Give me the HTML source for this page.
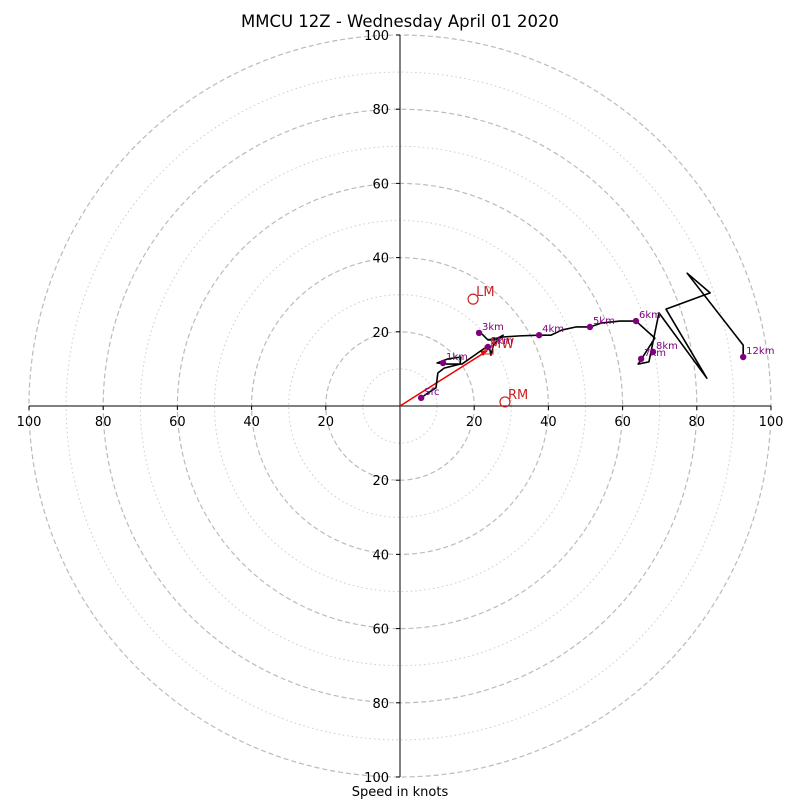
<!DOCTYPE html>
<html><head><meta charset="utf-8"><style>
body{margin:0;background:#fff}
svg{display:block;font-family:"DejaVu Sans","Liberation Sans",sans-serif}
</style></head><body>
<svg id="c" width="800" height="800" viewBox="0 0 800 800">
<text x="400" y="27" text-anchor="middle" font-size="16.5">MMCU 12Z - Wednesday April 01 2020</text>
<text x="400" y="796" text-anchor="middle" font-size="13">Speed in knots</text>
<g id="grid"></g><g id="axes"></g><g id="plot"></g>
</svg>
<script>
const ringSpeeds=[10,20,30,40,50,60,70,80,90,100];
const tickLabels=[20,40,60,80,100];
const pathU=[5.7,7.5,9.7,10.2,11.9,16.2,16.4,12.9,10.0,12.7,16.7,22.1,24.0,24.5,25.3,27.8,25.6,23.7,21.6,23.7,27.8,32.3,37.5,40.7,43.7,47.4,51.2,54.4,59.3,63.6,68.7,64.2,67.1,69.8,82.7,71.7,83.6,77.4,92.5,92.5];
const pathV=[2.2,3.5,4.9,8.9,10.2,11.3,13.2,12.7,11.6,11.3,11.3,15.1,16.4,13.7,16.7,19.1,17.8,17.8,19.9,17.8,18.6,18.9,19.1,19.1,20.5,21.3,21.3,22.4,22.9,22.9,18.3,11.3,11.9,25.1,7.5,26.1,30.5,35.8,16.4,13.2];
const markLabels=["Sfc","1km","2km","3km","4km","5km","6km","7km","8km","12km"];
const markU=[5.7,11.6,23.7,21.3,37.5,51.2,63.6,65.0,68.2,92.5];
const markV=[2.2,11.6,15.9,19.7,19.1,21.3,22.9,12.7,14.6,13.2];
const lmU=19.7, lmV=28.8, rmU=28.3, rmV=1.1, mwU=24.0, mwV=15.1;

const CX=400, CY=406, R=371, MAX=100;
const sx=u=>CX+u*R/MAX, sy=v=>CY-v*R/MAX, sr=s=>s*R/MAX;
const NS='http://www.w3.org/2000/svg';
function mk(tag,attrs,parent){const e=document.createElementNS(NS,tag);for(const k in attrs)e.setAttribute(k,attrs[k]);parent.appendChild(e);return e;}
const grid=document.getElementById('grid'),axes=document.getElementById('axes'),plot=document.getElementById('plot');
ringSpeeds.forEach(s=>{
  const c=mk('circle',{cx:CX,cy:CY,r:sr(s),fill:'none',stroke:s%20===0?'#bbb':'#ccc','stroke-width':s%20===0?1.2:1,'stroke-dasharray':s%20===0?'5,3':'1.5,3'},grid);
  
  
});
const ax1=mk('line',{x1:CX,y1:sy(MAX),x2:CX,y2:sy(-MAX),stroke:'#000','stroke-width':1},axes);


const ax2=mk('line',{x1:sx(-MAX),y1:CY,x2:sx(MAX),y2:CY,stroke:'#000','stroke-width':1},axes);


tickLabels.forEach(t=>{
  [1,-1].forEach(d=>{
    const ty=mk('text',{x:CX-11,y:sy(d*t)+5,'text-anchor':'end','font-size':13},axes);
    ty.textContent=t;
    
    
    const tx=mk('text',{x:sx(d*t),y:CY+20,'text-anchor':'middle','font-size':13},axes);
    tx.textContent=t;
    
    
    mk('line',{x1:CX-4,y1:sy(d*t),x2:CX,y2:sy(d*t),stroke:'#000'},axes);
    mk('line',{x1:sx(d*t),y1:CY,x2:sx(d*t),y2:CY+4,stroke:'#000'},axes);
  });
});
const arr=mk('line',{x1:CX,y1:CY,x2:sx(mwU)-2,y2:sy(mwV)+1,stroke:'#e00','stroke-width':1.5},plot);


const ah=mk('polygon',{points:`${sx(mwU)-1},${sy(mwV)} ${sx(mwU)-9},${sy(mwV)+1} ${sx(mwU)-6},${sy(mwV)+6}`,fill:'#e00'},plot);


const pts=pathU.map((u,i)=>sx(u)+','+sy(pathV[i])).join(' ');
const pl=mk('polyline',{points:pts,fill:'none',stroke:'#000','stroke-width':1.6,'stroke-linejoin':'round'},plot);


const mw=mk('rect',{x:sx(mwU)-4,y:sy(mwV)-4,width:8,height:8,fill:'none',stroke:'#c22','stroke-width':1},plot);


const mwt=mk('text',{x:sx(mwU)+1,y:sy(mwV)-2,'font-size':13,fill:'#c22'},plot);
mwt.textContent='MW';


markLabels.forEach((l,i)=>{
  const d=mk('circle',{cx:sx(markU[i]),cy:sy(markV[i]),r:3.2,fill:'purple'},plot);
  
  
  const t=mk('text',{x:sx(markU[i])+3,y:sy(markV[i])-3,'font-size':10,fill:'purple'},plot);
  t.textContent=l;
  
  
});
[[lmU,lmV,'LM'],[rmU,rmV,'RM']].forEach(m=>{
  const c=mk('circle',{cx:sx(m[0]),cy:sy(m[1]),r:5,fill:'none',stroke:'#c22','stroke-width':1.2},plot);
  
  
  const t=mk('text',{x:sx(m[0])+3,y:sy(m[1])-3,'font-size':13,fill:'#c22'},plot);
  t.textContent=m[2];
  
  
});
</script>
</body></html>
